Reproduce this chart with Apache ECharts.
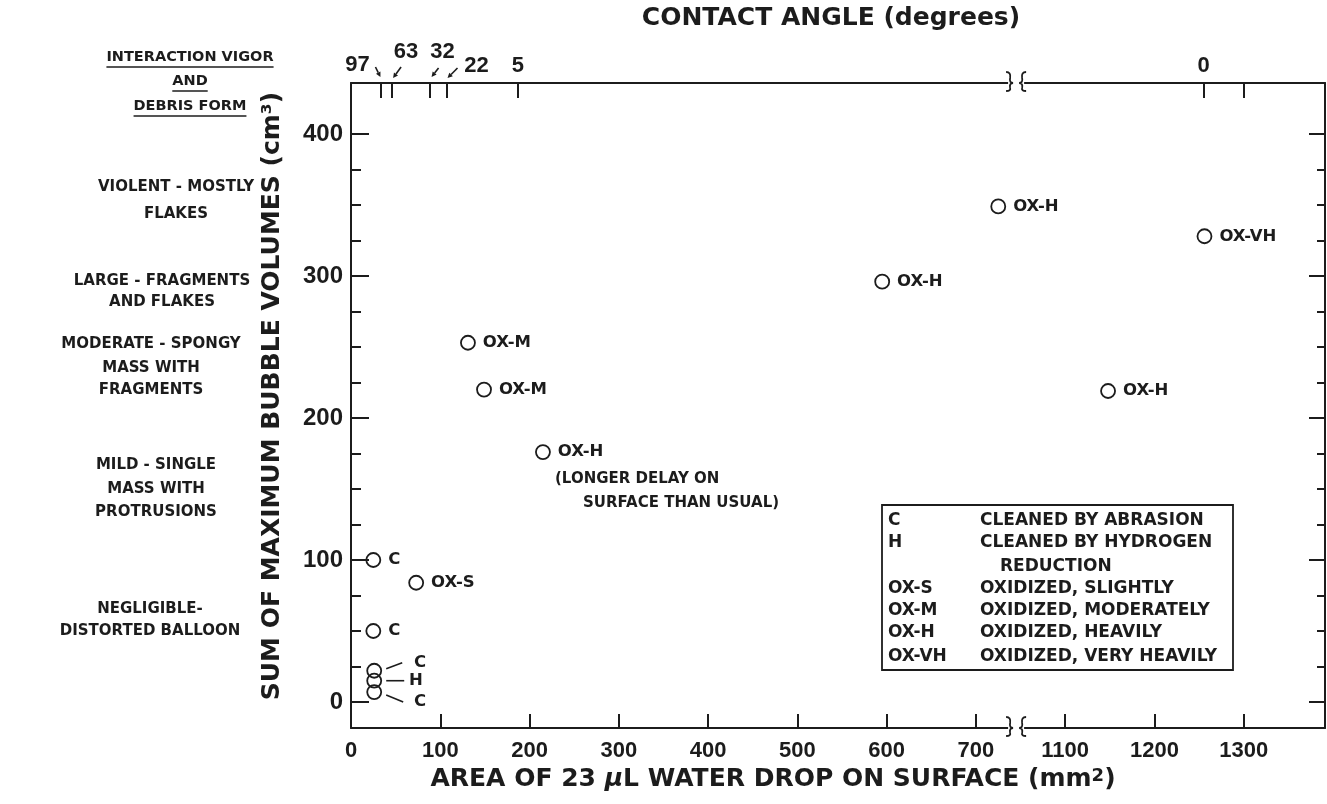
<!DOCTYPE html>
<html><head><meta charset="utf-8">
<script src="https://cdn.jsdelivr.net/npm/echarts@6/dist/echarts.min.js"></script>
<style>html,body{margin:0;padding:0;background:#fff}#c{width:1327px;height:804px}</style>
</head><body><div id="c"></div>
<script>
// ---------- data ----------
const pointNames   = ['C','OX-S','C','C','H','C','OX-M','OX-M','OX-H','OX-H','OX-H','OX-VH','OX-H'];
const pointAreas   = [25, 73, 25, 26, 26, 26, 131, 149, 215, 595, 725, 1256, 1148];
const pointVolumes = [100, 84, 50, 22, 15, 7, 253, 220, 176, 296, 349, 328, 219];
const xLabelValues = [0,100,200,300,400,500,600,700,1100,1200,1300];
const xTickValues  = [100,200,300,400,500,600,700,1100,1200,1300];
const yLabelValues = [0,100,200,300,400];
const yMinorValues = [25,50,75,125,150,175,225,250,275,325,350,375];
const contactAngles     = [97,63,32,22,5,0];
const contactAngleAreas = [33,46,88,107,187,1255];
const topExtraTickAreas = [1300];
const legendCodes = ['C','H','','OX-S','OX-M','OX-H','OX-VH'];
const legendTexts = ['CLEANED BY ABRASION','CLEANED BY HYDROGEN','REDUCTION','OXIDIZED, SLIGHTLY','OXIDIZED, MODERATELY','OXIDIZED, HEAVILY','OXIDIZED, VERY HEAVILY'];
const vigorHeader = ['INTERACTION VIGOR','AND','DEBRIS FORM'];
const vigorLevels = [
  ['VIOLENT - MOSTLY','FLAKES'],
  ['LARGE - FRAGMENTS','AND FLAKES'],
  ['MODERATE - SPONGY','MASS WITH','FRAGMENTS'],
  ['MILD - SINGLE','MASS WITH','PROTRUSIONS'],
  ['NEGLIGIBLE-','DISTORTED BALLOON']
];
const noteLines = ['(LONGER DELAY ON','SURFACE THAN USUAL)'];

// ---------- axis break (area 745..1045 removed) ----------
const BREAK_AT = 745, BREAK_SHIFT = 300;
const toAxis = a => a > BREAK_AT ? a - BREAK_SHIFT : a;
const fromAxis = v => v > BREAK_AT ? v + BREAK_SHIFT : v;
const X_MAX = 1091, Y_MIN = -18.3, Y_MAX = 435.9;

const INK = '#1c1c1c';
const FT = '"DejaVu Sans", "Liberation Sans", sans-serif';
const FN = '"Liberation Sans", Arial, sans-serif';

// ---------- layout helpers (styles, not data) ----------
const leaderLayout = {
  3: {label:[25,-8], line:[12,-2,28,-8]},
  4: {label:[20,0],  line:[12,0,30,0]},
  5: {label:[25,10], line:[12,3,29,10]}
};
const angleLayout = [
  {dx:-23, dy:-18, arrow:[-5,-16,0,-6]},
  {dx:14,  dy:-31, arrow:[9,-16,1,-5]},
  {dx:13,  dy:-31, arrow:[9,-15,2,-6]},
  {dx:30,  dy:-17, arrow:[11,-15,1,-5]},
  {dx:0,   dy:-17},
  {dx:0,   dy:-17}
];

const scatterData = pointAreas.map((a,i) => {
  const item = {value:[toAxis(a), pointVolumes[i]], name: pointNames[i]};
  if (leaderLayout[i]) item.label = {offset: leaderLayout[i].label};
  return item;
});

function arrowEls(x1,y1,x2,y2){
  const ang = Math.atan2(y2-y1, x2-x1), L = 5, W = 2.5;
  const bx = x2 - L*Math.cos(ang), by = y2 - L*Math.sin(ang);
  const nx = -Math.sin(ang)*W, ny = Math.cos(ang)*W;
  return [
    {type:'line', shape:{x1,y1,x2:bx,y2:by}, style:{stroke:INK, lineWidth:1.6}},
    {type:'polygon', shape:{points:[[x2,y2],[bx+nx,by+ny],[bx-nx,by-ny]]}, style:{fill:INK}}
  ];
}

function braceEls(cx, y){
  const a = cx-10, b = cx+10;
  const st = {fill:'none', stroke:INK, lineWidth:1.8};
  return [
    {type:'rect', shape:{x:cx-8, y:y-4, width:16, height:8}, style:{fill:'#fff'}},
    {type:'path', shape:{pathData:`M${a} ${y-11} Q${a+5} ${y-11} ${a+4} ${y-5} Q${a+3} ${y} ${a+7} ${y} Q${a+3} ${y} ${a+4} ${y+5} Q${a+5} ${y+8} ${a} ${y+8}`}, style:st},
    {type:'path', shape:{pathData:`M${b} ${y-11} Q${b-5} ${y-11} ${b-4} ${y-5} Q${b-3} ${y} ${b-7} ${y} Q${b-3} ${y} ${b-4} ${y+5} Q${b-5} ${y+8} ${b} ${y+8}`}, style:st}
  ];
}

// measure text for underlines
const mctx = document.createElement('canvas').getContext('2d');
function textW(str, font){ mctx.font = font; return mctx.measureText(str).width; }

// ---------- graphics (texts, legend) ----------
const g = [];
const HEAD_FONT = `bold 14.5px ${FT}`;
const headY = [57, 81, 106];
vigorHeader.forEach((t,i) => {
  g.push({type:'text', style:{text:t, x:190, y:headY[i], font:HEAD_FONT, fill:INK, align:'center', verticalAlign:'middle'}});
  const w = textW(t, HEAD_FONT);
  g.push({type:'line', shape:{x1:190-w/2, y1:headY[i]+10, x2:190+w/2, y2:headY[i]+10}, style:{stroke:INK, lineWidth:1.5}});
});
const levelCenters = [176, 162, 151, 156, 150];
const levelY = [[187,214],[281,302],[344,368,390],[465,489,512],[609,631]];
vigorLevels.forEach((lines,i) => lines.forEach((t,j) => {
  g.push({type:'text', style:{text:t, x:levelCenters[i], y:levelY[i][j], font:`bold 15px ${FT}`, fill:INK, align:'center', verticalAlign:'middle'}});
}));
// titles
g.push({type:'text', style:{text:'CONTACT ANGLE (degrees)', x:831, y:18, font:`bold 25px ${FT}`, fill:INK, align:'center', verticalAlign:'middle'}});
g.push({type:'text', style:{text:'AREA OF 23 {mu|μ}L WATER DROP ON SURFACE (mm{sup|2})', x:773, y:779, font:`bold 25px ${FT}`, fill:INK, align:'center', verticalAlign:'middle',
  rich:{mu:{font:`bold italic 25px ${FT}`, fill:INK}, sup:{font:`bold 18px ${FT}`, fill:INK, verticalAlign:'bottom', padding:[0,0,6,0]}}}});
g.push({type:'text', rotation:Math.PI/2, x:272, y:396, style:{text:'SUM OF MAXIMUM BUBBLE VOLUMES (cm³)', x:0, y:0, font:`bold 25px ${FT}`, fill:INK, align:'center', verticalAlign:'middle'}});
// note under OX-H point
g.push({type:'text', style:{text:noteLines[0], x:555, y:479, font:`bold 15px ${FT}`, fill:INK, align:'left', verticalAlign:'middle'}});
g.push({type:'text', style:{text:noteLines[1], x:583, y:503, font:`bold 15px ${FT}`, fill:INK, align:'left', verticalAlign:'middle'}});
// legend box
g.push({type:'rect', shape:{x:882, y:505, width:351, height:165}, style:{fill:'#fff', stroke:INK, lineWidth:1.8}, z:10});
const legY = [521,543,567,589,611,633,657];
legendCodes.forEach((c,i) => {
  if (c) g.push({type:'text', z:11, style:{text:c, x:888, y:legY[i], font:`bold 17px ${FT}`, fill:INK, align:'left', verticalAlign:'middle'}});
  g.push({type:'text', z:11, style:{text:legendTexts[i], x: c ? 980 : 1000, y:legY[i], font:`bold 17px ${FT}`, fill:INK, align:'left', verticalAlign:'middle'}});
});

const axisLineStyle = {show:true, onZero:false, lineStyle:{color:INK, width:2}};
const noLine = {show:false, onZero:false};
const commonY = {type:'value', min:Y_MIN, max:Y_MAX, splitLine:{show:false}};

const option = {
  backgroundColor:'#fff',
  animation:false,
  grid:{left:351, right:2, top:83, bottom:76, containLabel:false},
  xAxis:[
    {type:'value', position:'bottom', min:0, max:X_MAX, splitLine:{show:false},
     axisLine:axisLineStyle,
     axisTick:{show:true, inside:true, length:14, lineStyle:{color:INK, width:2}, customValues:xTickValues.map(toAxis)},
     axisLabel:{show:true, margin:12, customValues:xLabelValues.map(toAxis), formatter:v => String(Math.round(fromAxis(v))),
       fontFamily:FN, fontWeight:'bold', fontSize:22, color:INK}},
    {type:'value', position:'top', min:0, max:X_MAX, splitLine:{show:false},
     axisLine:axisLineStyle,
     axisTick:{show:true, inside:true, length:15, lineStyle:{color:INK, width:2}, customValues:contactAngleAreas.concat(topExtraTickAreas).map(toAxis)},
     axisLabel:{show:false}}
  ],
  yAxis:[
    Object.assign({}, commonY, {position:'left', axisLine:axisLineStyle,
      axisTick:{show:true, inside:true, length:18, lineStyle:{color:INK, width:2}, customValues:yLabelValues},
      axisLabel:{show:true, margin:8, customValues:yLabelValues, fontFamily:FN, fontWeight:'bold', fontSize:24, color:INK}}),
    Object.assign({}, commonY, {position:'left', axisLine:noLine,
      axisTick:{show:true, inside:true, length:10, lineStyle:{color:INK, width:2}, customValues:yMinorValues},
      axisLabel:{show:false}}),
    Object.assign({}, commonY, {position:'right', axisLine:axisLineStyle,
      axisTick:{show:true, inside:true, length:16, lineStyle:{color:INK, width:2}, customValues:yLabelValues},
      axisLabel:{show:false}}),
    Object.assign({}, commonY, {position:'right', axisLine:noLine,
      axisTick:{show:true, inside:true, length:8, lineStyle:{color:INK, width:2}, customValues:yMinorValues},
      axisLabel:{show:false}})
  ],
  series:[
    {type:'scatter', xAxisIndex:0, yAxisIndex:0, symbol:'circle', symbolSize:14, data:scatterData,
     itemStyle:{color:'rgba(255,255,255,0)', borderColor:INK, borderWidth:1.8, opacity:1},
     label:{show:true, position:'right', distance:7, formatter:p => p.name, fontFamily:FT, fontWeight:'bold', fontSize:16.5, color:INK, opacity:1, textBorderWidth:0},
     emphasis:{disabled:true}, z:3},
    {type:'custom', xAxisIndex:0, yAxisIndex:0, silent:true, clip:false, z:4,
     data:Object.keys(leaderLayout).map(k => [toAxis(pointAreas[k]), pointVolumes[k], +k]),
     renderItem:(params, api) => {
       const p = api.coord([api.value(0), api.value(1)]);
       const L = leaderLayout[api.value(2)].line;
       return {type:'line', shape:{x1:p[0]+L[0], y1:p[1]+L[1], x2:p[0]+L[2], y2:p[1]+L[3]}, style:{stroke:INK, lineWidth:1.6}};
     }},
    {type:'custom', xAxisIndex:0, yAxisIndex:0, silent:true, clip:false, z:4,
     data:contactAngles.map((a,i) => [toAxis(contactAngleAreas[i]), a, i]),
     renderItem:(params, api) => {
       const p = api.coord([api.value(0), Y_MAX]);
       const lay = angleLayout[api.value(2)];
       const ch = [{type:'text', style:{text:String(api.value(1)), x:p[0]+lay.dx, y:p[1]+lay.dy, font:`bold 22px ${FN}`, fill:INK, align:'center', verticalAlign:'middle'}}];
       if (lay.arrow) { const A = lay.arrow; ch.push(...arrowEls(p[0]+A[0], p[1]+A[1], p[0]+A[2], p[1]+A[3])); }
       return {type:'group', children:ch};
     }},
    {type:'custom', xAxisIndex:0, yAxisIndex:0, silent:true, clip:false, z:20,
     data:[[BREAK_AT]],
     renderItem:(params, api) => {
       const b = api.coord([api.value(0), Y_MIN]);
       const t = api.coord([api.value(0), Y_MAX]);
       return {type:'group', children:braceEls(b[0], b[1]).concat(braceEls(t[0], t[1]))};
     }}
  ],
  graphic:{elements:g}
};
const chart = echarts.init(document.getElementById('c'), null, {renderer:'canvas'});
chart.setOption(option);
</script></body></html>
